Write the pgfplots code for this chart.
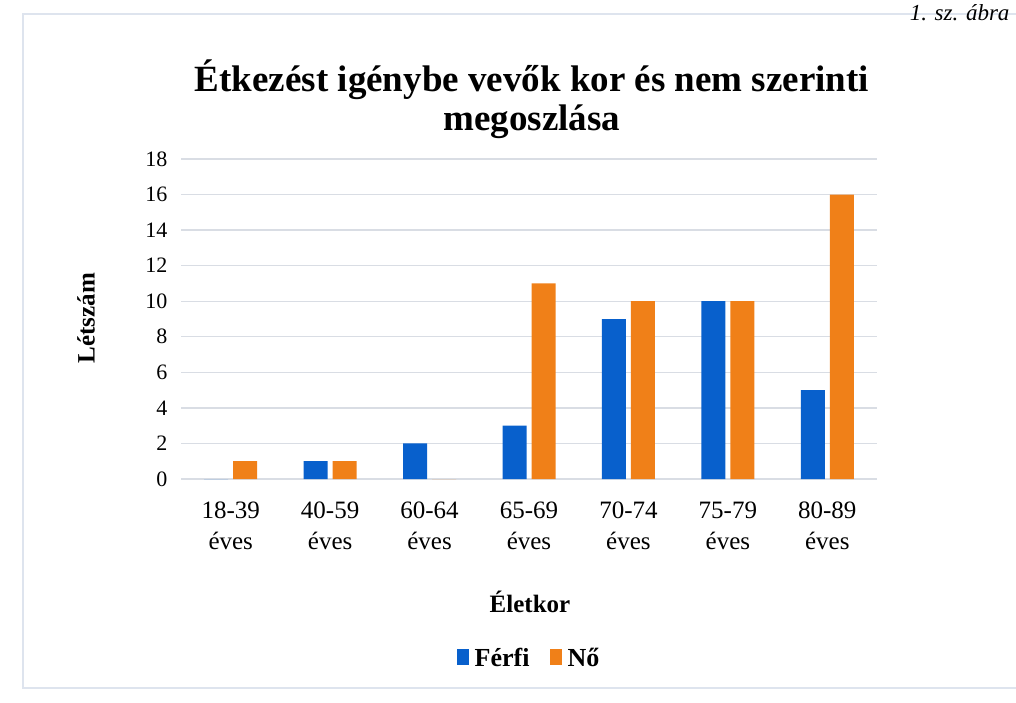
\documentclass[border=0pt]{standalone}
\usepackage{fontspec}
\setmainfont{Liberation Serif}
\usepackage{pgfplots}
\pgfplotsset{compat=1.18}
\definecolor{ferfi}{RGB}{8,96,204}
\definecolor{noc}{RGB}{240,128,24}
\definecolor{gridc}{RGB}{217,221,228}
\definecolor{framec}{RGB}{222,228,238}
\begin{document}
\begin{tikzpicture}
\path[use as bounding box] (0pt,0pt) rectangle (1016pt,702pt);
\draw[framec, line width=1.5pt] (1016pt,688pt) -- (23pt,688pt) -- (23pt,14pt) -- (1016pt,14pt);
\node[font=\itshape\fontsize{23}{25}\selectfont, anchor=east] at (1013pt,689pt) {1. sz. ábra};
\node[font=\bfseries\fontsize{37}{39}\selectfont, align=center] at (532pt,603pt) {Étkezést igénybe vevők kor és nem szerinti\\megoszlása};
\node[rotate=90, font=\bfseries\fontsize{25}{28}\selectfont] at (86pt,384pt) {Létszám};
\node[font=\bfseries\fontsize{25}{28}\selectfont] at (530pt,100pt) {Életkor};
\begin{axis}[
  at={(181pt,223pt)}, anchor=south west,
  scale only axis, width=696pt, height=320pt,
  ymin=0, ymax=18, ytick={0,2,...,18},
  xmin=-0.5, xmax=6.5, xtick={0,...,6},
  xticklabels={{18-39\\éves},{40-59\\éves},{60-64\\éves},{65-69\\éves},{70-74\\éves},{75-79\\éves},{80-89\\éves}},
  axis line style={draw=none}, tick style={draw=none},
  ymajorgrids, grid style={gridc, line width=1.3pt},
  ybar=5pt, bar width=24pt,
  /pgf/number format/assume math mode=true,
  yticklabel style={font=\fontsize{22}{24}\selectfont, xshift=-10pt},
  xticklabel style={font=\fontsize{25}{31}\selectfont, align=center, yshift=-15pt},
  legend style={at={(0.5,-0.56)}, anchor=center, draw=none, fill=none, legend columns=2,
    font=\bfseries\fontsize{26}{28}\selectfont,
    /tikz/every even column/.append style={column sep=18pt}},
  legend image code/.code={\fill[#1] (0pt,-7pt) rectangle (12pt,9pt); \path (16pt,0pt);},
]
\addplot[fill=ferfi, draw=none] coordinates {(0,0) (1,1) (2,2) (3,3) (4,9) (5,10) (6,5)};
\addplot[fill=noc, draw=none] coordinates {(0,1) (1,1) (2,0) (3,11) (4,10) (5,10) (6,16)};
\legend{Férfi, Nő}
\end{axis}
\end{tikzpicture}
\end{document}
